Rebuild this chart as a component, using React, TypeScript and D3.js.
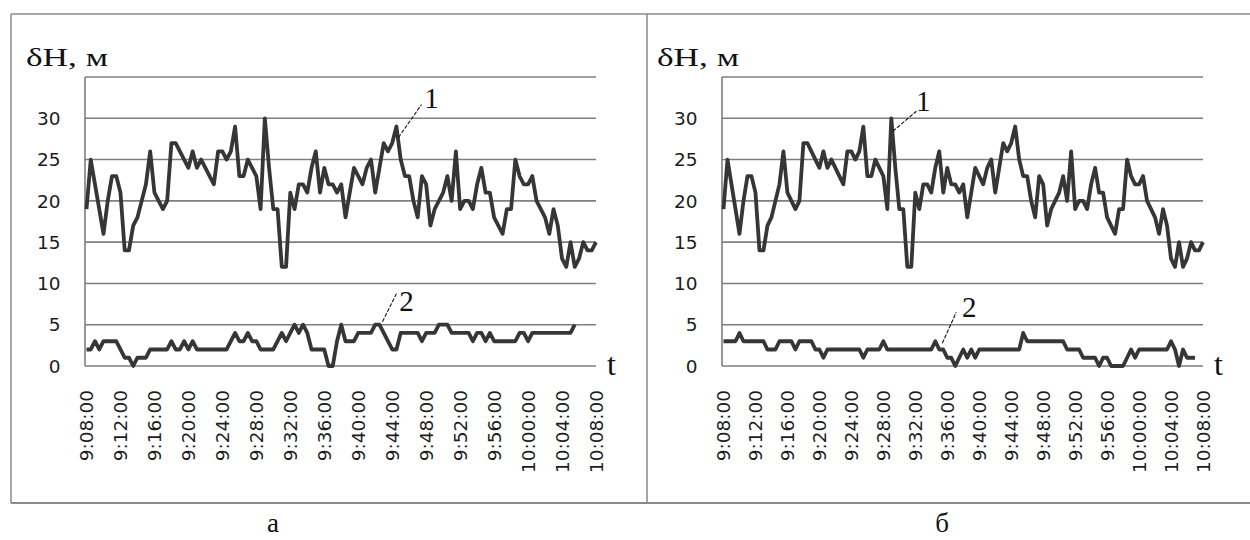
import React from 'react';
import * as d3 from 'd3';

// samples every 30 s starting 9:08:00, labels every 4 minutes
const tickLabels = [
  '9:08:00', '9:12:00', '9:16:00', '9:20:00', '9:24:00', '9:28:00', '9:32:00', '9:36:00',
  '9:40:00', '9:44:00', '9:48:00', '9:52:00', '9:56:00', '10:00:00', '10:04:00', '10:08:00',
];
const SAMPLES_PER_TICK = 8;
const yTicks = [0, 5, 10, 15, 20, 25, 30];
const gridLines = [0, 5, 10, 15, 20, 25, 30, 35];

// curve 1 (same on both panels)
const dH1 = [
  19, 25, 22, 19, 16, 20, 23, 23, 21, 14,
  14, 17, 18, 20, 22, 26, 21, 20, 19, 20,
  27, 27, 26, 25, 24, 26, 24, 25, 24, 23,
  22, 26, 26, 25, 26, 29, 23, 23, 25, 24,
  23, 19, 30, 24, 19, 19, 12, 12, 21, 19,
  22, 22, 21, 24, 26, 21, 24, 22, 22, 21,
  22, 18, 21, 24, 23, 22, 24, 25, 21, 24,
  27, 26, 27, 29, 25, 23, 23, 20, 18, 23,
  22, 17, 19, 20, 21, 23, 20, 26, 19, 20,
  20, 19, 22, 24, 21, 21, 18, 17, 16, 19,
  19, 25, 23, 22, 22, 23, 20, 19, 18, 16,
  19, 17, 13, 12, 15, 12, 13, 15, 14, 14,
  15,
];

// curve 2, panel "а"
const dH2a = [
  2, 2, 3, 2, 3, 3, 3, 3, 2, 1,
  1, 0, 1, 1, 1, 2, 2, 2, 2, 2,
  3, 2, 2, 3, 2, 3, 2, 2, 2, 2,
  2, 2, 2, 2, 3, 4, 3, 3, 4, 3,
  3, 2, 2, 2, 2, 3, 4, 3, 4, 5,
  4, 5, 4, 2, 2, 2, 2, 0, 0, 3,
  5, 3, 3, 3, 4, 4, 4, 4, 5, 5,
  4, 3, 2, 2, 4, 4, 4, 4, 4, 3,
  4, 4, 4, 5, 5, 5, 4, 4, 4, 4,
  4, 3, 4, 4, 3, 4, 3, 3, 3, 3,
  3, 3, 4, 4, 3, 4, 4, 4, 4, 4,
  4, 4, 4, 4, 4, 5,
];

// curve 2, panel "б"
const dH2b = [
  3, 3, 3, 3, 4, 3, 3, 3, 3, 3,
  3, 2, 2, 2, 3, 3, 3, 3, 2, 3,
  3, 3, 3, 2, 2, 1, 2, 2, 2, 2,
  2, 2, 2, 2, 2, 1, 2, 2, 2, 2,
  3, 2, 2, 2, 2, 2, 2, 2, 2, 2,
  2, 2, 2, 3, 2, 2, 1, 1, 0, 1,
  2, 1, 2, 1, 2, 2, 2, 2, 2, 2,
  2, 2, 2, 2, 2, 4, 3, 3, 3, 3,
  3, 3, 3, 3, 3, 3, 2, 2, 2, 2,
  1, 1, 1, 1, 0, 1, 1, 0, 0, 0,
  0, 1, 2, 1, 2, 2, 2, 2, 2, 2,
  2, 2, 3, 2, 0, 2, 1, 1, 1,
];

const PLOT_TOP = 77;
const PLOT_BOTTOM = 366;
const lineColor = '#363636';
const gridColor = '#7f7f7f';
const serif = '"Liberation Serif", "Times New Roman", serif';
const sans = '"DejaVu Sans", Verdana, sans-serif';

type Note = { label: string; idx: number; value: number; end: [number, number]; start: [number, number]; text: [number, number] };

type PanelProps = {
  plotLeft: number;
  plotRight: number;
  titleX: number;
  letter: string;
  letterX: number;
  curve2: number[];
  notes: Note[];
};

function Panel({ plotLeft, plotRight, titleX, letter, letterX, curve2, notes }: PanelProps) {
  const n = (tickLabels.length - 1) * SAMPLES_PER_TICK;
  const x = d3.scaleLinear().domain([0, n]).range([plotLeft + 1.5, plotRight]);
  const y = d3.scaleLinear().domain([0, 35]).range([PLOT_BOTTOM, PLOT_TOP]);
  const line = d3.line<number>().x((_, i) => x(i)).y(d => y(d));

  return (
    <g>
      {gridLines.map(v => (
        <line key={v} x1={plotLeft} x2={plotRight} y1={y(v)} y2={y(v)} stroke={gridColor} strokeWidth={1.6} />
      ))}
      <line x1={plotLeft} x2={plotLeft} y1={PLOT_TOP} y2={PLOT_BOTTOM} stroke={gridColor} strokeWidth={1.6} />

      {yTicks.map(v => (
        <text key={v} x={plotLeft - 24.5} y={y(v)} dy="0.36em" textAnchor="end" fontFamily={sans} fontSize={18.5} fill="#1c1c1c">
          {v}
        </text>
      ))}

      {tickLabels.map((t, i) => {
        const tx = x(i * SAMPLES_PER_TICK);
        return (
          <text key={t} transform={`translate(${tx},390) rotate(-90)`} dy="0.36em" textAnchor="end"
            fontFamily={sans} fontSize={18.5} fill="#1c1c1c">
            {t}
          </text>
        );
      })}

      <path d={line(dH1) ?? ''} fill="none" stroke={lineColor} strokeWidth={3.8} strokeLinejoin="round" />
      <path d={line(curve2) ?? ''} fill="none" stroke={lineColor} strokeWidth={3.8} strokeLinejoin="round" />

      {notes.map(nt => {
        const ax = x(nt.idx);
        const ay = y(nt.value);
        return (
          <g key={nt.label}>
            <line x1={ax + nt.end[0]} y1={ay + nt.end[1]} x2={ax + nt.start[0]} y2={ay + nt.start[1]}
              stroke="#111" strokeWidth={1.1} strokeDasharray="4 1.5" />
            <text x={ax + nt.text[0]} y={ay + nt.text[1]} textAnchor="middle" fontFamily={serif} fontSize={29} fill="#111">
              {nt.label}
            </text>
          </g>
        );
      })}

      <text x={titleX} y={66} fontFamily={serif} fontSize={26} textLength={82} lengthAdjust="spacingAndGlyphs" fill="#111">
        δH, м
      </text>
      <text x={plotRight + 11} y={375} fontFamily={serif} fontSize={32} fill="#111">t</text>
      <text x={letterX} y={532} textAnchor="middle" fontFamily={serif} fontSize={27} fill="#111">{letter}</text>
    </g>
  );
}

export default function App() {
  const frame = '#8a8a8a';
  return (
    <svg width={1250} height={540} style={{ position: 'absolute', left: 0, top: 0, background: '#fff' }}>
      <rect width={1250} height={540} fill="#fff" />
      <line x1={11} x2={1250} y1={14} y2={14} stroke={frame} strokeWidth={1.5} />
      <line x1={11} x2={1250} y1={503} y2={503} stroke={frame} strokeWidth={2} />
      <line x1={11} x2={11} y1={14} y2={503} stroke={frame} strokeWidth={1.5} />
      <line x1={647} x2={647} y1={14} y2={503} stroke={frame} strokeWidth={1.5} />

      <Panel
        plotLeft={85}
        plotRight={596}
        titleX={26}
        letter="а"
        letterX={273}
        curve2={dH2a}
        notes={[
          { label: '1', idx: 73, value: 29, end: [2, 11], start: [25, -22], text: [35, -19] },
          { label: '2', idx: 69, value: 5, end: [3, -3], start: [17, -31], text: [27, -14] },
        ]}
      />
      <Panel
        plotLeft={722}
        plotRight={1203}
        titleX={657}
        letter="б"
        letterX={942}
        curve2={dH2b}
        notes={[
          { label: '1', idx: 42, value: 30, end: [1.5, 13], start: [25, -7], text: [32, -7] },
          { label: '2', idx: 53, value: 3, end: [7, 2], start: [21, -29], text: [34, -24] },
        ]}
      />
    </svg>
  );
}
